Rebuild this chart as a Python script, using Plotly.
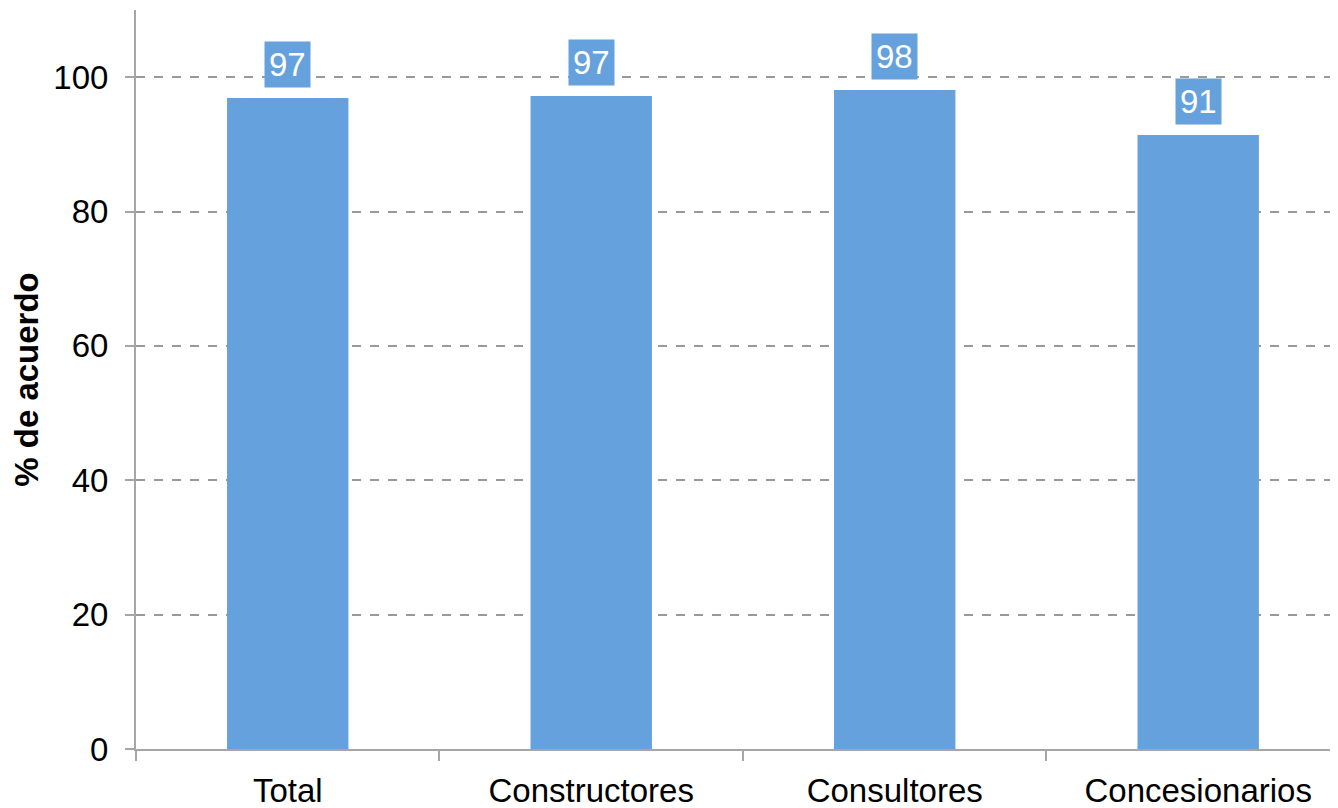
import plotly.graph_objects as go

categories = ["Total", "Constructores", "Consultores", "Concesionarios"]
values = [96.9, 97.2, 98.1, 91.4]
labels = ["97", "97", "98", "91"]
y_ticks = [0, 20, 40, 60, 80, 100]

bar_color = "#65A1DC"
font_family = "Liberation Sans, Arial, sans-serif"

fig = go.Figure()
fig.add_trace(go.Bar(
    x=categories, y=values, width=0.4,
    marker=dict(color=bar_color, line=dict(width=0)),
))

for c, v, t in zip(categories, values, labels):
    fig.add_annotation(
        x=c, y=v, text=t, showarrow=False, yanchor="bottom", yshift=10,
        bgcolor=bar_color, font=dict(color="white", size=33, family=font_family),
        borderpad=4,
    )

fig.update_layout(
    width=1338, height=808,
    margin=dict(l=128, r=0, t=2, b=67),
    plot_bgcolor="white", paper_bgcolor="white",
    showlegend=False,
    font=dict(family=font_family, size=33, color="black"),
    xaxis=dict(
        range=[-0.5, 3.487], showgrid=False, automargin=False,
        showline=True, linecolor="#A6A6A6", linewidth=2,
        ticks="outside", tickson="boundaries", ticklen=10, tickcolor="#A6A6A6", tickwidth=2,
        tickfont=dict(size=33), ticklabelstandoff=11,
    ),
    yaxis=dict(
        range=[0, 110], tickvals=y_ticks, automargin=False,
        showgrid=True, gridcolor="#999999", griddash="dash", gridwidth=1.5,
        showline=True, linecolor="#A6A6A6", linewidth=2,
        ticks="outside", ticklen=9, tickcolor="#A6A6A6", tickwidth=2,
        tickfont=dict(size=33), zeroline=False, ticklabelstandoff=10,
        title=dict(text="<b>% de acuerdo</b>", font=dict(size=33), standoff=8),
    ),
)

fig.write_html("out.html")
